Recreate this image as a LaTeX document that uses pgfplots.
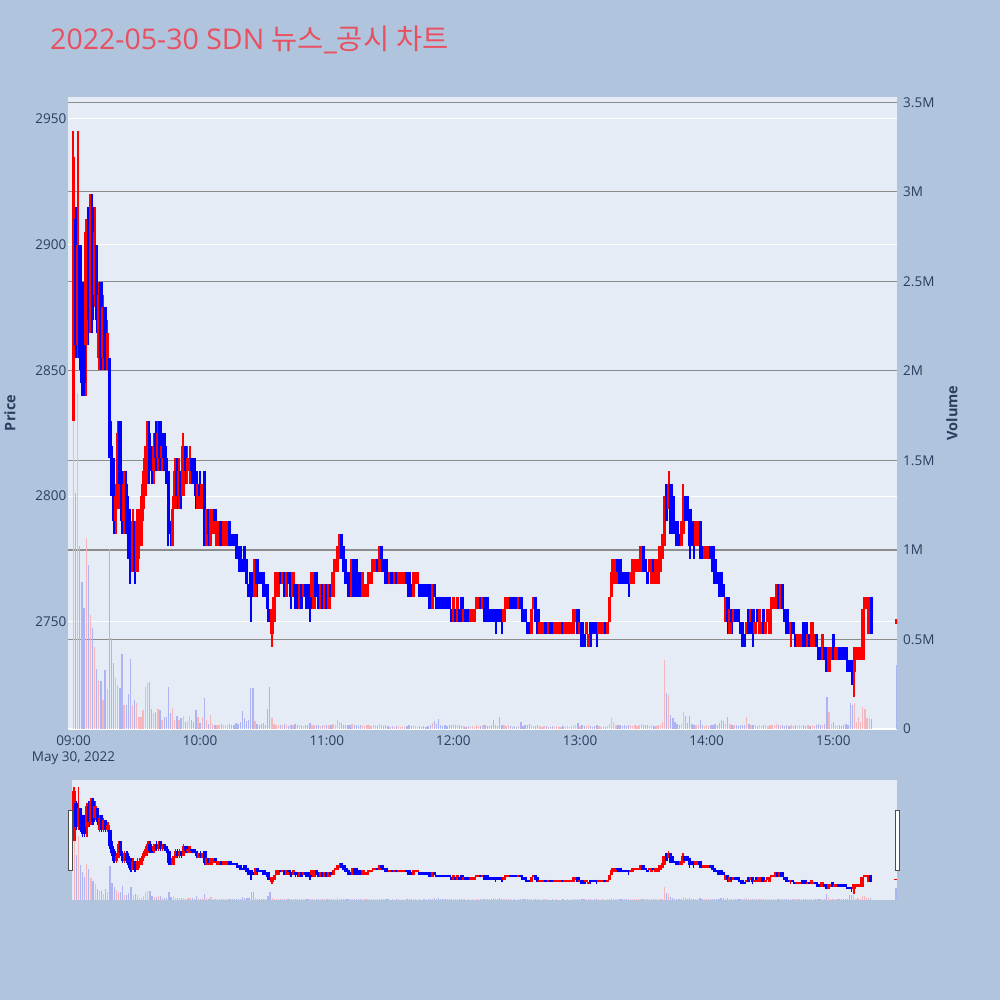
\documentclass[border=0pt]{standalone}
\usepackage{pgfplots}
\pgfplotsset{compat=1.18}
\usepackage{pgfplotstable}
\usepackage{fontspec}
\setmainfont{Open Sans}
\newfontfamily\krfont{Noto Sans CJK KR}
\definecolor{pagebg}{RGB}{176,196,222}
\definecolor{plotbg}{RGB}{229,236,246}
\definecolor{txt}{RGB}{42,63,95}
\definecolor{ttl}{RGB}{232,80,96}
\definecolor{upc}{RGB}{255,0,0}
\definecolor{dnc}{RGB}{0,0,255}
\definecolor{vup}{RGB}{245,182,190}
\definecolor{vdn}{RGB}{172,180,244}
\definecolor{vgrid}{RGB}{140,140,140}
\pgfplotsset{
  colormap={cand}{color=(dnc) color=(upc)},
  colormap={vol}{color=(vdn) color=(vup)},
}
\begin{document}
% t = minutes after 09:00; o h l c = price; v = volume (thousands); r = 1 up (red), 0 down (blue)
\pgfplotstableread{
t o h l c v r
0 2830 2945 2830 2935 1780 1
1 2910 2915 2855 2860 1320 0
2 2860 2945 2855 2900 1875 1
3 2900 2900 2850 2855 1020 0
4 2885 2885 2840 2845 820 0
5 2880 2885 2840 2845 675 0
6 2860 2910 2840 2905 1065 1
7 2905 2915 2860 2870 915 0
8 2870 2920 2865 2915 636 1
9 2915 2920 2865 2870 562 0
10 2880 2915 2875 2905 460 1
11 2900 2900 2865 2870 333 0
12 2855 2885 2850 2880 270 1
13 2885 2885 2850 2855 270 0
14 2855 2880 2850 2875 162 1
15 2875 2875 2850 2855 330 0
16 2855 2870 2850 2865 222 1
17 2855 2855 2815 2820 1003 0
18 2820 2830 2800 2805 506 0
19 2810 2815 2785 2790 370 0
20 2790 2805 2785 2800 283 1
21 2795 2830 2795 2825 245 1
22 2830 2830 2800 2805 227 0
23 2805 2810 2785 2790 418 0
24 2790 2810 2785 2805 134 1
25 2805 2810 2785 2790 134 0
26 2795 2800 2775 2780 194 0
27 2790 2795 2765 2770 389 0
28 2770 2795 2770 2790 134 1
29 2790 2790 2765 2770 162 0
30 2770 2795 2770 2790 143 1
31 2780 2795 2775 2790 69 1
32 2780 2800 2780 2795 69 1
33 2795 2810 2790 2805 106 1
34 2800 2820 2800 2815 232 1
35 2810 2830 2805 2825 255 1
36 2825 2830 2805 2810 262 0
37 2815 2820 2805 2810 110 0
38 2810 2825 2805 2820 87 1
39 2825 2830 2810 2815 97 0
40 2815 2830 2810 2825 110 1
41 2830 2830 2810 2815 106 0
42 2815 2825 2810 2820 50 1
43 2825 2825 2810 2815 69 0
44 2815 2820 2805 2810 69 0
45 2810 2810 2780 2785 236 0
46 2790 2790 2780 2785 87 0
47 2780 2800 2780 2795 115 1
48 2795 2815 2795 2810 50 1
49 2810 2815 2795 2800 72 0
50 2800 2815 2795 2810 50 1
51 2810 2810 2795 2800 60 0
52 2800 2825 2800 2820 72 1
53 2820 2820 2805 2810 41 0
54 2810 2820 2805 2815 46 1
55 2810 2820 2805 2815 72 1
56 2815 2815 2805 2810 50 0
57 2815 2815 2805 2810 41 0
58 2810 2810 2795 2800 106 0
59 2795 2805 2795 2805 65 1
60 2805 2810 2795 2800 35 0
61 2795 2805 2795 2805 69 1
62 2810 2810 2780 2785 171 0
63 2780 2795 2780 2795 50 1
64 2795 2795 2780 2785 30 0
65 2780 2795 2780 2795 78 1
66 2785 2795 2785 2795 30 1
67 2795 2795 2785 2790 25 0
68 2780 2790 2780 2790 25 1
69 2780 2790 2780 2790 20 1
70 2790 2790 2780 2780 30 0
71 2780 2790 2780 2790 25 1
72 2780 2790 2780 2790 20 1
73 2780 2790 2780 2785 25 1
74 2790 2790 2780 2780 30 0
75 2785 2785 2780 2780 25 0
76 2785 2785 2780 2780 20 0
77 2785 2785 2775 2780 35 0
78 2780 2780 2775 2775 30 0
79 2780 2780 2770 2770 40 0
80 2775 2775 2770 2770 102 0
81 2780 2780 2770 2770 60 0
82 2775 2775 2765 2765 45 0
83 2765 2765 2760 2760 50 0
84 2770 2770 2750 2760 227 0
85 2765 2765 2760 2760 227 0
86 2760 2775 2760 2775 45 1
87 2775 2775 2760 2765 30 0
88 2770 2770 2765 2765 25 0
89 2770 2770 2765 2765 30 0
90 2770 2770 2760 2760 35 0
91 2765 2765 2760 2760 25 0
92 2765 2765 2750 2755 110 0
93 2755 2755 2750 2750 236 0
94 2745 2755 2740 2755 60 1
95 2750 2760 2750 2760 30 1
96 2760 2770 2760 2770 20 1
97 2760 2770 2760 2770 25 1
98 2770 2770 2765 2765 20 0
99 2765 2770 2765 2770 25 1
100 2770 2770 2760 2760 30 0
101 2760 2770 2760 2770 20 1
102 2770 2770 2765 2765 15 0
103 2765 2765 2755 2760 25 0
104 2760 2770 2760 2770 20 1
105 2765 2765 2755 2760 30 0
106 2765 2765 2755 2760 20 0
107 2755 2765 2755 2765 25 1
108 2765 2765 2755 2755 20 0
109 2760 2765 2760 2765 15 1
110 2765 2765 2755 2760 25 0
111 2765 2765 2755 2755 20 0
112 2765 2765 2750 2755 35 0
113 2760 2770 2755 2770 25 1
114 2755 2770 2755 2770 20 1
115 2770 2770 2760 2760 25 0
116 2765 2765 2755 2755 20 0
117 2755 2765 2755 2765 15 1
118 2765 2765 2755 2755 20 0
119 2755 2765 2755 2765 20 1
120 2765 2765 2755 2755 25 0
121 2755 2765 2755 2765 20 1
122 2765 2765 2760 2760 25 0
123 2760 2770 2760 2770 30 1
124 2770 2775 2770 2775 25 1
125 2770 2780 2770 2780 50 1
126 2775 2785 2775 2780 40 1
127 2785 2785 2775 2775 35 0
128 2780 2780 2770 2770 25 0
129 2775 2775 2765 2765 20 0
130 2770 2770 2760 2765 25 0
131 2765 2765 2760 2760 20 0
132 2760 2775 2760 2775 30 1
133 2775 2775 2760 2760 25 0
134 2775 2775 2760 2765 20 0
135 2770 2770 2760 2760 15 0
136 2770 2770 2760 2760 20 0
137 2760 2770 2760 2770 25 1
138 2760 2765 2760 2765 15 1
139 2760 2765 2760 2765 20 1
140 2765 2770 2765 2770 20 1
141 2765 2770 2765 2770 15 1
142 2770 2775 2770 2775 25 1
143 2770 2775 2770 2775 20 1
144 2775 2775 2770 2770 15 0
145 2770 2780 2770 2780 30 1
146 2780 2780 2770 2775 25 0
147 2775 2775 2770 2770 15 0
148 2775 2775 2765 2765 20 0
149 2770 2770 2765 2765 15 0
150 2765 2770 2765 2770 10 1
151 2770 2770 2765 2765 15 0
152 2765 2770 2765 2770 10 1
153 2770 2770 2765 2765 15 0
154 2765 2770 2765 2770 15 1
155 2765 2770 2765 2770 10 1
156 2765 2770 2765 2770 15 1
157 2765 2770 2765 2770 10 1
158 2770 2770 2765 2765 15 0
159 2770 2770 2760 2760 20 0
160 2765 2765 2760 2760 15 0
161 2760 2770 2760 2770 20 1
162 2765 2770 2765 2770 15 1
163 2765 2770 2765 2770 10 1
164 2765 2765 2760 2760 15 0
165 2765 2765 2760 2760 10 0
166 2765 2765 2760 2760 15 0
167 2765 2765 2760 2760 10 0
168 2765 2765 2760 2760 15 0
169 2765 2765 2755 2755 25 0
170 2755 2765 2755 2765 35 1
171 2765 2765 2760 2760 45 0
172 2760 2760 2755 2755 30 0
173 2760 2760 2755 2755 54 0
174 2760 2760 2755 2755 20 0
175 2760 2760 2755 2755 15 0
176 2760 2760 2755 2755 20 0
177 2760 2760 2755 2755 15 0
178 2760 2760 2755 2755 20 0
179 2755 2755 2750 2750 25 0
180 2750 2760 2750 2760 30 1
181 2755 2755 2750 2750 20 0
182 2750 2760 2750 2760 25 1
183 2755 2755 2750 2750 20 0
184 2760 2760 2750 2750 15 0
185 2750 2755 2750 2755 15 1
186 2755 2755 2750 2750 10 0
187 2755 2755 2750 2750 15 0
188 2750 2755 2750 2755 10 1
189 2750 2755 2750 2755 15 1
190 2750 2755 2750 2755 10 1
191 2755 2760 2755 2760 20 1
192 2755 2760 2755 2760 15 1
193 2760 2760 2755 2755 15 0
194 2755 2760 2755 2760 20 1
195 2760 2760 2750 2750 20 0
196 2760 2760 2750 2755 15 0
197 2755 2755 2750 2750 15 0
198 2755 2755 2750 2750 20 0
199 2755 2755 2750 2750 50 0
200 2755 2755 2745 2750 25 0
201 2755 2755 2750 2750 15 0
202 2755 2755 2750 2750 69 0
203 2755 2755 2745 2750 25 0
204 2750 2755 2750 2755 20 1
205 2755 2760 2755 2760 15 1
206 2755 2760 2755 2760 20 1
207 2760 2760 2755 2755 15 0
208 2760 2760 2755 2755 10 0
209 2760 2760 2755 2755 15 0
210 2760 2760 2755 2755 10 0
211 2755 2760 2755 2760 15 1
212 2760 2760 2755 2755 37 0
213 2755 2755 2750 2750 15 0
214 2755 2755 2750 2750 20 0
215 2750 2750 2745 2745 20 0
216 2750 2750 2745 2745 28 0
217 2745 2755 2745 2755 20 1
218 2755 2760 2755 2760 15 1
219 2760 2760 2750 2750 15 0
220 2755 2755 2745 2745 20 0
221 2745 2750 2745 2750 15 1
222 2745 2750 2745 2750 10 1
223 2745 2750 2745 2750 15 1
224 2750 2750 2745 2745 15 0
225 2745 2750 2745 2750 10 1
226 2750 2750 2745 2745 10 0
227 2750 2750 2745 2745 15 0
228 2745 2750 2745 2750 10 1
229 2745 2750 2745 2750 15 1
230 2745 2750 2745 2750 10 1
231 2745 2750 2745 2750 10 1
232 2750 2750 2745 2745 15 0
233 2745 2750 2745 2750 10 1
234 2745 2750 2745 2750 15 1
235 2745 2750 2745 2750 10 1
236 2745 2750 2745 2750 15 1
237 2745 2755 2745 2755 20 1
238 2750 2755 2750 2755 25 1
239 2755 2755 2745 2745 32 0
240 2745 2750 2745 2750 15 1
241 2750 2750 2740 2740 20 0
242 2745 2745 2740 2740 15 0
243 2745 2750 2745 2750 15 1
244 2740 2745 2740 2745 20 1
245 2750 2750 2740 2745 15 0
246 2750 2750 2745 2745 10 0
247 2750 2750 2745 2745 15 0
248 2750 2750 2740 2745 20 0
249 2745 2750 2745 2750 15 1
250 2745 2750 2745 2750 10 1
251 2745 2750 2745 2750 15 1
252 2750 2750 2745 2745 10 0
253 2745 2750 2745 2750 15 1
254 2750 2760 2750 2760 30 1
255 2760 2775 2760 2770 60 1
256 2765 2775 2765 2775 40 1
257 2765 2775 2765 2775 25 1
258 2775 2775 2765 2770 20 0
259 2775 2775 2765 2765 25 0
260 2770 2770 2765 2765 15 0
261 2770 2770 2765 2765 20 0
262 2770 2770 2765 2765 15 0
263 2770 2770 2760 2765 25 0
264 2765 2770 2765 2770 20 1
265 2765 2775 2765 2775 15 1
266 2770 2775 2770 2775 20 1
267 2770 2775 2770 2775 15 1
268 2770 2775 2770 2775 20 1
269 2775 2780 2770 2780 30 1
270 2780 2780 2770 2770 25 0
271 2775 2775 2770 2770 20 0
272 2770 2770 2765 2765 20 0
273 2770 2775 2770 2775 15 1
274 2765 2775 2765 2775 20 1
275 2775 2775 2770 2770 15 0
276 2765 2775 2765 2775 15 1
277 2765 2775 2765 2775 20 1
278 2770 2780 2770 2780 25 1
279 2775 2785 2775 2780 40 1
280 2780 2800 2780 2800 385 1
281 2805 2805 2790 2790 200 0
282 2795 2810 2795 2805 190 1
283 2805 2805 2785 2785 78 0
284 2800 2800 2785 2785 60 0
285 2790 2790 2785 2785 40 0
286 2790 2790 2780 2780 30 0
287 2785 2785 2780 2780 25 0
288 2780 2790 2780 2790 30 1
289 2785 2805 2785 2800 93 1
290 2800 2800 2790 2790 70 0
291 2800 2800 2790 2790 35 0
292 2795 2795 2775 2780 70 0
293 2790 2790 2780 2780 30 0
294 2790 2790 2775 2780 25 0
295 2780 2790 2780 2790 20 1
296 2780 2790 2780 2790 25 1
297 2790 2790 2775 2780 50 0
298 2780 2780 2775 2775 20 0
299 2775 2780 2775 2780 15 1
300 2775 2780 2775 2780 20 1
301 2775 2780 2775 2780 15 1
302 2780 2780 2775 2775 20 0
303 2780 2780 2770 2770 25 0
304 2775 2775 2765 2765 30 0
305 2770 2770 2765 2765 20 0
306 2770 2770 2760 2760 35 0
307 2770 2770 2760 2760 50 0
308 2765 2765 2760 2760 45 0
309 2750 2760 2750 2760 30 1
310 2760 2760 2745 2750 65 0
311 2745 2755 2745 2755 30 1
312 2755 2755 2745 2750 25 0
313 2750 2755 2750 2755 20 1
314 2755 2755 2750 2750 25 0
315 2755 2755 2750 2750 15 0
316 2750 2750 2745 2745 20 0
317 2750 2750 2740 2740 25 0
318 2745 2745 2740 2740 20 0
319 2745 2750 2745 2750 65 1
320 2755 2755 2745 2745 30 0
321 2750 2755 2750 2755 20 1
322 2755 2755 2740 2745 25 0
323 2745 2750 2745 2750 20 1
324 2755 2755 2750 2750 15 0
325 2745 2755 2745 2755 20 1
326 2745 2750 2745 2750 15 1
327 2755 2755 2745 2745 25 0
328 2745 2750 2745 2750 20 1
329 2750 2755 2750 2755 15 1
330 2745 2755 2745 2755 20 1
331 2755 2760 2755 2760 25 1
332 2755 2760 2755 2760 20 1
333 2755 2765 2755 2765 30 1
334 2765 2765 2755 2755 25 0
335 2755 2765 2755 2765 20 1
336 2765 2765 2755 2755 20 0
337 2755 2755 2750 2750 15 0
338 2755 2755 2745 2745 20 0
339 2750 2750 2745 2745 15 0
340 2745 2750 2740 2750 20 1
341 2750 2750 2745 2745 15 0
342 2745 2745 2740 2740 20 0
343 2740 2745 2740 2745 15 1
344 2740 2745 2740 2745 20 1
345 2740 2745 2740 2745 15 1
346 2750 2750 2740 2740 20 0
347 2750 2750 2740 2740 15 0
348 2740 2745 2740 2745 20 1
349 2745 2745 2740 2740 15 0
350 2740 2750 2740 2750 20 1
351 2740 2745 2740 2745 15 1
352 2745 2745 2740 2740 20 0
353 2740 2740 2735 2735 30 0
354 2740 2740 2735 2735 25 0
355 2735 2745 2735 2745 20 1
356 2740 2740 2735 2735 30 0
357 2740 2740 2730 2730 180 0
358 2730 2740 2730 2740 97 1
359 2735 2740 2735 2740 30 1
360 2745 2745 2735 2735 41 0
361 2735 2740 2735 2740 20 1
362 2735 2740 2735 2740 15 1
363 2740 2740 2735 2735 20 0
364 2740 2740 2735 2735 15 0
365 2740 2740 2735 2735 20 0
366 2740 2740 2735 2735 30 0
367 2735 2735 2730 2730 25 0
368 2735 2735 2730 2730 143 0
369 2735 2735 2725 2730 134 0
370 2730 2740 2720 2740 147 1
371 2735 2740 2735 2740 40 1
372 2735 2740 2735 2740 69 1
373 2735 2740 2735 2740 40 1
374 2735 2755 2735 2755 125 1
375 2755 2760 2755 2760 110 1
376 2755 2760 2755 2760 60 1
377 2745 2760 2745 2760 60 1
378 2760 2760 2745 2745 58 0
390 2749 2751 2749 2751 0 1
}\data
\begin{tikzpicture}
\fill[pagebg] (0pt,0pt) rectangle (1000pt,1000pt);
\useasboundingbox (0pt,0pt) rectangle (1000pt,1000pt);

\node[anchor=base west, inner sep=0pt, text=ttl, font=\fontsize{28.5}{32}\selectfont] at (50pt,950pt)
  {2022-05-30 SDN {\krfont 뉴스}\_{\krfont 공시} {\krfont 차트}};

% ---------- main: price axis with background, grid, ticks
\begin{axis}[
  at={(68pt,271pt)}, anchor=south west, width=829pt, height=632pt, scale only axis,
  xmin=-2.6, xmax=390.2, ymin=2707.4, ymax=2958.7,
  axis line style={draw=none}, major tick length=0pt,
  axis background/.style={fill=plotbg},
  ytick={2750,2800,2850,2900,2950}, yticklabels={2750,2800,2850,2900,2950},
  ymajorgrids, grid style={white, line width=1pt},
  xtick={0,60,120,180,240,300,360},
  xticklabels={09:00,10:00,11:00,12:00,13:00,14:00,15:00},
  tick label style={font=\fontsize{13.5}{16}\selectfont, text=txt},
  yticklabel style={inner sep=1.5pt},
  xticklabel style={inner sep=3pt, yshift=-3.5pt},
]
\end{axis}

% ---------- main: volume axis
\begin{axis}[
  at={(68pt,271pt)}, anchor=south west, width=829pt, height=632pt, scale only axis,
  xmin=-2.6, xmax=390.2, ymin=0, ymax=3530,
  axis line style={draw=none}, major tick length=0pt,
  hide x axis, yticklabel pos=right,
  ytick={500,1000,1500,2000,2500,3000,3500},
  yticklabels={0.5M,1M,1.5M,2M,2.5M,3M,3.5M},
  extra y ticks={0}, extra y tick labels={0},
  extra y tick style={grid style={white, line width=1.2pt}},
  ymajorgrids, grid style={vgrid, line width=1.1pt},
  tick label style={font=\fontsize{13.5}{16}\selectfont, text=txt},
  yticklabel style={inner sep=0pt, xshift=6pt, anchor=west},
  colormap name=vol, point meta min=0, point meta max=1,
]
\addplot[line width=1.3pt, point meta=\thisrow{r}, quiver={u=0, v=\thisrow{v}, colored}] table[x=t, y expr=0] {\data};
\addplot[vdn, line width=1.3pt] coordinates {(390,0) (390,357)};
\end{axis}

% ---------- main: candles
\begin{axis}[
  at={(68pt,271pt)}, anchor=south west, width=829pt, height=632pt, scale only axis,
  xmin=-2.6, xmax=390.2, ymin=2707.4, ymax=2958.7, hide axis,
  colormap name=cand, point meta min=0, point meta max=1,
]
\addplot[line width=2pt, point meta=\thisrow{r}, quiver={u=0, v=\thisrow{h}-\thisrow{l}, colored=mapped color}] table[x=t, y=l] {\data};
\addplot[line width=3.5pt, point meta=\thisrow{r}, quiver={u=0, v=\thisrow{c}-\thisrow{o}, colored=mapped color}] table[x=t, y=o] {\data};
\end{axis}

% labels
\node[rotate=90, font=\bfseries\fontsize{14.5}{17}\selectfont, text=txt] at (10pt,587pt) {Price};
\node[rotate=90, font=\bfseries\fontsize{14.5}{17}\selectfont, text=txt] at (952pt,587pt) {Volume};
\node[font=\fontsize{13.5}{16}\selectfont, text=txt] at (73.5pt,242pt) {May 30, 2022};

% ---------- range slider
\fill[plotbg] (72pt,100pt) rectangle (897pt,220pt);
\begin{axis}[
  at={(72pt,100pt)}, anchor=south west, width=825pt, height=120pt, scale only axis,
  xmin=-1, xmax=390.5, ymin=0, ymax=3530, hide axis,
  colormap name=vol, point meta min=0, point meta max=1,
]
\addplot[line width=1.2pt, point meta=\thisrow{r}, quiver={u=0, v=\thisrow{v}, colored}] table[x=t, y expr=0] {\data};
\addplot[vdn, line width=1.2pt] coordinates {(390,0) (390,357)};
\end{axis}
\begin{axis}[
  at={(72pt,100pt)}, anchor=south west, width=825pt, height=120pt, scale only axis,
  xmin=-1, xmax=390.5, ymin=2707.4, ymax=2958.7, hide axis,
  colormap name=cand, point meta min=0, point meta max=1,
]
\addplot[line width=1.5pt, point meta=\thisrow{r}, quiver={u=0, v=\thisrow{h}-\thisrow{l}, colored=mapped color}] table[x=t, y=l] {\data};
\addplot[line width=3.5pt, point meta=\thisrow{r}, quiver={u=0, v=\thisrow{c}-\thisrow{o}, colored=mapped color}] table[x=t, y=o] {\data};
\end{axis}
\draw[fill=white, draw=black!70, line width=0.8pt] (68.5pt,130pt) rectangle (72.5pt,190pt);
\draw[fill=white, draw=black!70, line width=0.8pt] (895pt,130pt) rectangle (899pt,190pt);
\end{tikzpicture}
\end{document}
